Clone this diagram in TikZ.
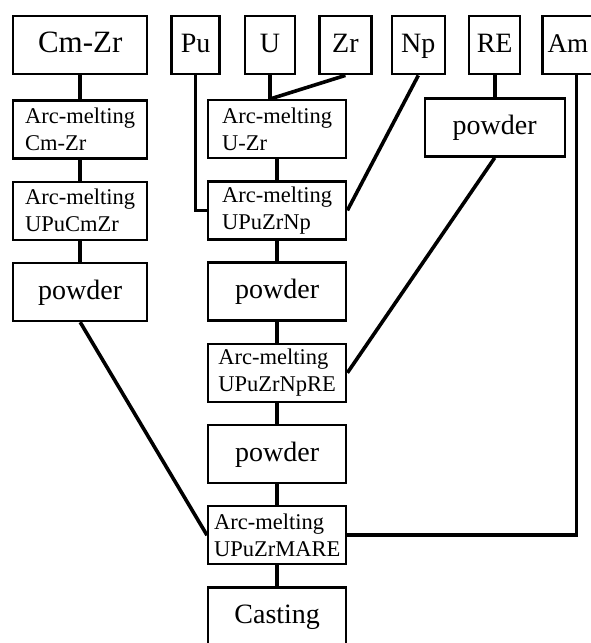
\documentclass[tikz,border=0pt]{standalone}
\usepackage{fontspec}
\setmainfont{Liberation Serif}
\usetikzlibrary{positioning}

\tikzset{
  box/.style={draw, line width=1.2pt, minimum height=29pt, inner xsep=2pt, inner ysep=1pt},
  elembox/.style={box, font=\fontsize{14}{16}\selectfont, text height=10pt, text depth=3pt},
  meltbox/.style={box, minimum width=69pt, align=left, font=\fontsize{11.25}{13.5}\selectfont},
  procbox/.style={box, minimum width=69pt, font=\fontsize{14}{16}\selectfont, text height=10pt, text depth=3pt},
  link/.style={line width=1.8pt},
}

\begin{document}
\begin{tikzpicture}[x=0.5pt, y=-0.5pt, node distance=10.4pt]
  \useasboundingbox (0,0) rectangle (590,643);
  % starting materials
  \node[elembox, minimum width=67pt, anchor=north west, font=\fontsize{15.5}{17}\selectfont] (cmzr) at (12,15) {Cm-Zr};
  \node[elembox, minimum width=24pt] [right=11pt of cmzr] (pu) {Pu};
  \node[elembox, minimum width=25pt] [right=11.5pt of pu] (u) {U};
  \node[elembox, minimum width=26pt] [right=11pt of u] (zr) {Zr};
  \node[elembox, minimum width=26.5pt] [right=9pt of zr] (np) {Np};
  \node[elembox, minimum width=25.5pt] [right=11pt of np] (re) {RE};
  \node[elembox, minimum width=26pt, text width=21pt, inner xsep=1pt, font=\fontsize{13.5}{16}\selectfont] [right=10pt of re] (am) {Am};
  % Cm-Zr branch
  \node[meltbox, minimum width=67pt] [below=12pt of cmzr] (mcmzr) {Arc-melting\\Cm-Zr};
  \node[meltbox, minimum width=67pt] [below=of mcmzr] (mcm) {Arc-melting\\UPuCmZr};
  \node[procbox, minimum width=67pt] [below=of mcm] (pcm) {powder};
  % main line
  \node[meltbox, anchor=north west] (muzr) at (207,99) {Arc-melting\\U-Zr};
  \node[meltbox] [below=of muzr] (mnp) {Arc-melting\\UPuZrNp};
  \node[procbox] [below=of mnp] (pnp) {powder};
  \node[meltbox] [below=of pnp] (mre) {Arc-melting\\UPuZrNpRE};
  \node[procbox] [below=of mre] (pre) {powder};
  \node[meltbox] [below=of pre] (mare) {Arc-melting\\UPuZrMARE};
  \node[procbox] [below=of mare] (cast) {Casting};
  % rare earths
  \node[procbox, minimum width=70pt] [below=11pt of re] (repow) {powder};

  \coordinate (uin) at (u.south |- muzr.north);
  \draw[link] (cmzr) -- (mcmzr) -- (mcm) -- (pcm);
  \draw[link] (pcm.south) -- (mare.west);
  \draw[link] (pu.south) |- (mnp.west);
  \draw[link] (u.south) -- (uin);
  \draw[link] (zr.south) -- (uin);
  \draw[link] (muzr) -- (mnp) -- (pnp) -- (mre) -- (pre) -- (mare) -- (cast);
  \draw[link] (np.south) -- (mnp.east);
  \draw[link] (re) -- (repow);
  \draw[link] (repow.south) -- (mre.east);
  \draw[link] ([xshift=4pt]am.south) |- (mare.east);
\end{tikzpicture}
\end{document}
